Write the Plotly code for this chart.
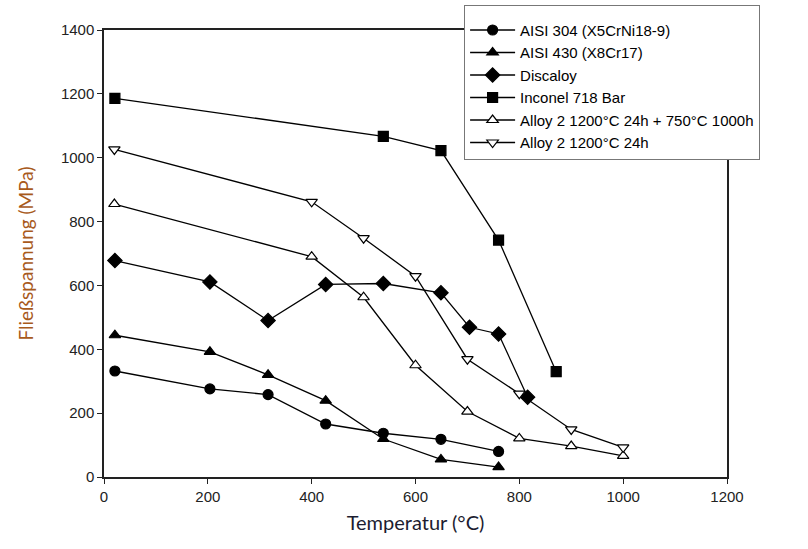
import plotly.graph_objects as go

# AISI 304
t_304 = [21, 204, 316, 427, 538, 649, 760]
s_304 = [332, 276, 258, 166, 137, 118, 80]
# AISI 430
t_430 = [21, 204, 316, 427, 538, 649, 760]
s_430 = [444, 392, 320, 239, 119, 55, 31]
# Discaloy
t_disc = [21, 204, 316, 427, 538, 649, 704, 760, 816]
s_disc = [678, 611, 490, 603, 606, 577, 469, 448, 250]
# Inconel 718 Bar
t_inc = [21, 538, 649, 760, 871]
s_inc = [1186, 1067, 1022, 742, 330]
# Alloy 2 1200°C 24h + 750°C 1000h
t_a2b = [20, 400, 500, 600, 700, 800, 900, 1000]
s_a2b = [855, 690, 563, 350, 205, 121, 97, 66]
# Alloy 2 1200°C 24h
t_a2a = [20, 400, 500, 600, 700, 800, 900, 1000]
s_a2a = [1026, 862, 748, 629, 369, 261, 149, 93]

names = ["AISI 304 (X5CrNi18-9)", "AISI 430 (X8Cr17)", "Discaloy",
         "Inconel 718 Bar", "Alloy 2 1200°C 24h + 750°C 1000h", "Alloy 2 1200°C 24h"]
xs = [t_304, t_430, t_disc, t_inc, t_a2b, t_a2a]
ys = [s_304, s_430, s_disc, s_inc, s_a2b, s_a2a]
symbols = ["circle", "triangle-up", "diamond", "square", "triangle-up", "triangle-down"]
fills = ["black", "black", "black", "black", "white", "white"]
sizes = [10, 10, 11, 10, 10, 10]

fig = go.Figure()
for n, x, y, sym, fc, sz in zip(names, xs, ys, symbols, fills, sizes):
    fig.add_trace(go.Scatter(
        x=x, y=y, name=n, mode="lines+markers",
        line=dict(color="black", width=1.3),
        marker=dict(symbol=sym, color=fc, size=sz, line=dict(color="black", width=1.2)),
    ))

axis_common = dict(
    showgrid=False, zeroline=False, showline=True, mirror=True,
    linecolor="#222", linewidth=1.5, ticks="outside", ticklen=5,
    tickcolor="#222", tickwidth=1.3,
    tickfont=dict(family="Liberation Sans, Arial", size=15, color="#222"),
)

fig.update_layout(
    width=808, height=549,
    margin=dict(l=104, r=81, t=30, b=72, autoexpand=False),
    plot_bgcolor="white", paper_bgcolor="white",
    xaxis=dict(range=[0, 1200], dtick=200, **axis_common,
               title=dict(text="Temperatur (°C)", standoff=12,
                          font=dict(family="Lato, Open Sans", size=20, color="#1c1c30"))),
    yaxis=dict(range=[0, 1400], dtick=200, **axis_common,
               title=dict(text="Fließspannung (MPa)", standoff=22,
                          font=dict(family="Lato, Open Sans", size=19, color="#a85a1c"))),
    legend=dict(x=0.578, y=1.056, xanchor="left", yanchor="top",
                bgcolor="white", bordercolor="#777", borderwidth=1,
                font=dict(family="Liberation Sans, Arial", size=15, color="black"),
                title=dict(text=" ", font=dict(size=6)),
                tracegroupgap=0, itemwidth=45),
    showlegend=True,
)

fig.write_html("out.html")
